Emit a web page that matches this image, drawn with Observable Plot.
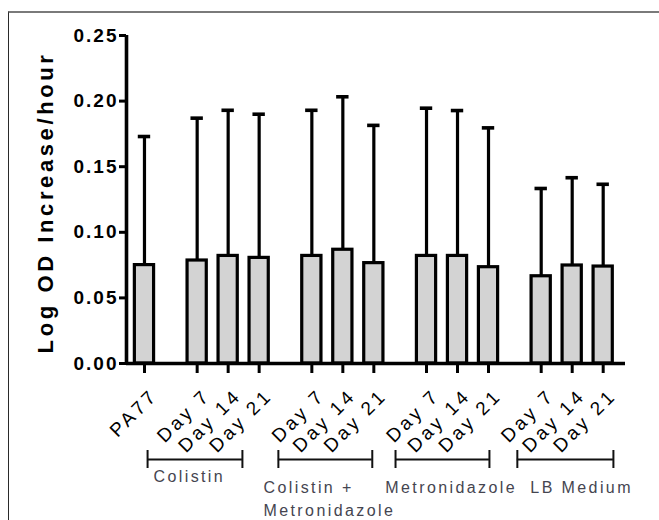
<!DOCTYPE html>
<html><head><meta charset="utf-8">
<script src="https://cdn.jsdelivr.net/npm/d3@7"></script>
<script src="https://cdn.jsdelivr.net/npm/@observablehq/plot@0.6"></script>
<style>
body{margin:0;background:#fff;}
#wrap{position:relative;width:659px;height:520px;overflow:hidden;}
#border{position:absolute;left:8px;top:11px;width:700px;height:600px;border-top:2px solid #7a7a7a;border-left:1.5px solid #2a2a2a;pointer-events:none;}
#wrap svg{position:absolute;left:0;top:0;}
svg text{font-family:"Liberation Sans",Arial,sans-serif;}
g[aria-label="y-axis tick label"] text{letter-spacing:2px;}
</style></head><body><div id="wrap"><div id="border"></div></div>
<script>
// ---- data ----
const groups = ["PA77", "Colistin", "Colistin +\nMetronidazole", "Metronidazole", "LB Medium"];
const barLabels = ["PA77", "Day 7", "Day 14", "Day 21", "Day 7", "Day 14", "Day 21", "Day 7", "Day 14", "Day 21", "Day 7", "Day 14", "Day 21"];
const barGroup = [0, 1, 1, 1, 2, 2, 2, 3, 3, 3, 4, 4, 4];
const means = [0.075, 0.0785, 0.082, 0.0805, 0.082, 0.0867, 0.0765, 0.082, 0.082, 0.0734, 0.0665, 0.0747, 0.0739];
const sds = [0.098, 0.1085, 0.111, 0.1095, 0.111, 0.1166, 0.105, 0.1126, 0.1108, 0.1062, 0.0669, 0.0669, 0.0627];
const yTicks = [0, 0.05, 0.10, 0.15, 0.20, 0.25];
// group bracket spans & label anchors (in bar-slot units)
const bracketStart = [0.1, 4.32, 8.1, 12.03];
const bracketEnd = [3.16, 7.35, 11.13, 15.13];
const groupLabelX = [0.29, 3.84, 7.77, 12.45];
const groupLabelRow = [0, 1, 1, 1];

// ---- layout: slots within groups, wider gap between groups ----
const GAP = 1.7;
const within = barGroup.map((g, i) => barGroup.slice(0, i).filter(h => h === g).length);
const data = barLabels.map((label, i) => {
  const g = barGroup[i];
  const pos = g === 0 ? 0 : GAP + (g - 1) * (2 + GAP) + within[i];
  return {label, group: groups[g], pos, mean: means[i], upper: means[i] + sds[i]};
});
const brackets = bracketStart.map((s, i) => ({start: s, end: bracketEnd[i], name: groups[i + 1], lx: groupLabelX[i], row: groupLabelRow[i]}));
const bracketEnds = brackets.flatMap(b => [b.start, b.end]);

const xMin = -0.58, xMax = 15.52;
const groupText = (rows, dy) => Plot.text(brackets.filter(b => b.row === rows), {x: "lx", y: 0, text: "name", dy, textAnchor: "start", lineAnchor: "top", lineHeight: 1.45, fontSize: 16, fill: "#454550"});
const chart = Plot.plot({
  width: 659, height: 520,
  marginLeft: 126, marginRight: 34, marginTop: 35, marginBottom: 157,
  style: {fontFamily: "'Liberation Sans', Arial, sans-serif", background: "transparent", color: "#000"},
  x: {domain: [xMin, xMax], axis: null},
  y: {domain: [0, 0.25], axis: null},
  marks: [
    Plot.ruleX(data, {x: "pos", y1: "mean", y2: "upper", stroke: "#000", strokeWidth: 3.2}),
    Plot.ruleY(data, {y: "upper", x1: d => d.pos - 0.2, x2: d => d.pos + 0.2, stroke: "#000", strokeWidth: 3.6}),
    Plot.rect(data, {x1: d => d.pos - 0.31, x2: d => d.pos + 0.31, y1: 0, y2: "mean", fill: "#d3d3d3", stroke: "#000", strokeWidth: 3.2}),
    Plot.axisY({ticks: yTicks, tickFormat: d3.format(".2f"), tickSize: 7, tickPadding: 1, strokeWidth: 3, fontSize: 19, fontWeight: "bold", label: null}),
    Plot.axisX({ticks: data.map(d => d.pos), tickFormat: () => "", tickSize: 10, strokeWidth: 3, label: null}),
    Plot.ruleX([xMin], {y1: 0, y2: 0.25, stroke: "#000", strokeWidth: 3.6}),
    Plot.ruleY([0], {x1: xMin, x2: xMax, stroke: "#000", strokeWidth: 3.6}),
    Plot.text(data, {x: "pos", y: 0, text: "label", rotate: -45, textAnchor: "end", dx: 10, dy: 29, fontSize: 19, fill: "#000", className: "xlab"}),
    Plot.ruleY(brackets, {y: 0, x1: "start", x2: "end", dy: 96, stroke: "#111", strokeWidth: 2}),
    Plot.ruleX(bracketEnds, {x: d => d, y1: 0, y2: 0, insetTop: -9, insetBottom: -9, dy: 96, stroke: "#111", strokeWidth: 2}),
    groupText(0, 102),
    groupText(1, 113),
    Plot.text(["Log OD Increase/hour"], {frameAnchor: "left", textAnchor: "middle", rotate: -90, dx: -81, dy: 3, fontSize: 22, fontWeight: "bold", fill: "#000", className: "ytitle"})
  ]
});
document.getElementById("wrap").appendChild(chart);
const sel = d3.select(chart);
sel.selectAll("g[aria-label='text'] text").style("letter-spacing", "2.4px");
sel.selectAll(".xlab text").style("letter-spacing", "3.3px");
sel.selectAll(".ytitle text").style("letter-spacing", "3.6px");
</script>
</body></html>
